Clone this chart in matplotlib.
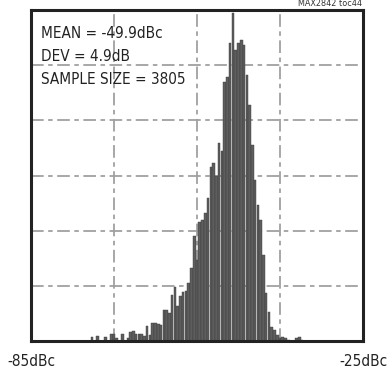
import numpy as np
import matplotlib
matplotlib.use("Agg")
import matplotlib.pyplot as plt

plt.rcParams.update({
    "font.family": ["DejaVu Sans"],
    "font.stretch": "condensed",
    "axes.unicode_minus": False,
})

# histogram bins (dBc, bin centres, 0.5 dB wide) and counts
bin_centres = [
    -74.0, -73.0, -71.5, -70.5, -70.0, -69.5, -68.5, -67.5, -67.0, -66.5,
    -66.0, -65.5, -65.0, -64.5, -64.0, -63.5, -63.0, -62.5, -62.0, -61.5,
    -61.0, -60.5, -60.0, -59.5, -59.0, -58.5, -58.0, -57.5, -57.0, -56.5,
    -56.0, -55.5, -55.0, -54.5, -54.0, -53.5, -53.0, -52.5, -52.0, -51.5,
    -51.0, -50.5, -50.0, -49.5, -49.0, -48.5, -48.0, -47.5, -47.0, -46.5,
    -46.0, -45.5, -45.0, -44.5, -44.0, -43.5, -43.0, -42.5, -42.0, -41.5,
    -41.0, -40.5, -40.0, -39.5, -39.0, -38.5, -37.0, -36.5, -36.0,
]
counts = [
    1.5, 1.8, 1.5, 2.5, 2.5, 1.1, 2.5, 1.1, 3.3, 3.6,
    2.5, 2.5, 2.5, 1.8, 5.4, 2.2, 6.5, 6.5, 6.2, 5.8,
    11.2, 11.2, 10.2, 16.7, 19.6, 12.7, 16.3, 17.8, 18.1, 21.0,
    26.5, 38.1, 29.4, 43.1, 43.9, 46.4, 51.8, 63.1, 64.5, 59.8,
    71.8, 68.9, 93.9, 95.7, 108.0, 118.9, 105.5, 108.0, 109.1, 107.3,
    96.4, 85.6, 71.1, 58.4, 49.3, 43.9, 31.2, 17.4, 10.5, 5.1,
    4.0, 2.2, 1.1, 1.5, 1.1, 0.4, 1.1, 1.5, 0.4,
]

x_range = [-85, -25]
x_tick_labels = ["-85dBc", "-25dBc"]
v_grid = [-70, -55, -40]
h_grid = [20, 40, 60, 80, 100]
y_top = 120

stats_text = ["MEAN = -49.9dBc", "DEV = 4.9dB", "SAMPLE SIZE = 3805"]

fig = plt.figure(figsize=(3.88, 3.74), dpi=100)
ax = fig.add_axes([31 / 388, 33 / 374, 332 / 388, 331 / 374])

grid_kw = dict(color="#a0a0a0", lw=1.3, dashes=(7, 2.5, 2.5, 2.5), zorder=1)
for gx in v_grid:
    ax.axvline(gx, **grid_kw)
for gy in h_grid:
    ax.axhline(gy, **grid_kw)

ax.bar(bin_centres, counts, width=0.46, color="#5e5e5e",
       edgecolor="#3c3c3c", linewidth=0.3, zorder=2)

ax.set_xlim(*x_range)
ax.set_ylim(0, y_top)
ax.set_xticks(x_range)
ax.set_xticklabels(x_tick_labels, fontsize=11, color="#222222")
ax.set_yticks([])
ax.tick_params(axis="x", length=0, pad=9)

for sp in ax.spines.values():
    sp.set_linewidth(2.2)
    sp.set_color("#222222")

for i, line in enumerate(stats_text):
    ax.text(10 / 332, (341 - 38 - i * 23) / 331, line, transform=ax.transAxes,
            fontsize=11, color="#222222", va="baseline", ha="left")

fig.text(362 / 388, 1 - 6.5 / 374, "MAX2842 toc44", fontsize=6.5,
         color="#333333", ha="right", va="baseline")

fig.savefig("out.png", dpi=100)
